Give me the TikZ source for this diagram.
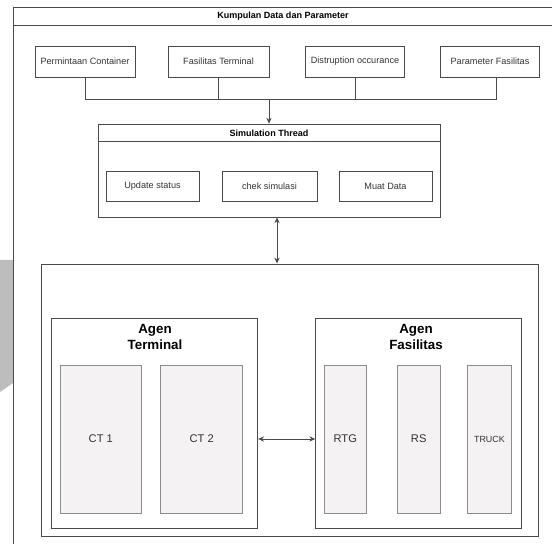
\documentclass[tikz,border=0pt]{standalone}
\usepackage{fontspec}
\setmainfont{Liberation Sans}
\usetikzlibrary{arrows.meta}

\definecolor{boxgray}{HTML}{F4F2F2}
\definecolor{linegray}{HTML}{8C8C8C}
\definecolor{framegray}{HTML}{4A4A4A}
\definecolor{textgray}{HTML}{333333}
\definecolor{markgray}{HTML}{BDBDBD}

\tikzset{
  databox/.style={draw=framegray, line width=0.6pt, inner sep=0pt,
    minimum height=0.93cm, text=textgray, font=\fontsize{7.8}{9}\selectfont},
  simbox/.style={draw=framegray, line width=0.6pt, inner sep=0pt,
    minimum height=0.9cm, text=textgray, font=\fontsize{7.8}{9}\selectfont},
  agentbox/.style={draw=framegray, line width=0.8pt, inner sep=0pt,
    minimum width=6.18cm, minimum height=6.3cm},
  unitbox/.style={draw=linegray, fill=boxgray, line width=0.7pt, inner sep=0pt,
    minimum height=4.44cm, text=textgray, font=\fontsize{9.5}{11}\selectfont},
  agenttitle/.style={align=center, font=\bfseries\fontsize{11.4}{13}\selectfont},
  boldtitle/.style={font=\bfseries\fontsize{7.7}{9}\selectfont},
  link/.style={draw=framegray, line width=0.7pt},
  tip/.style={-{Stealth[length=5pt,width=4.5pt]}},
  tips/.style={{Stealth[length=5pt,width=4.5pt]}-{Stealth[length=5pt,width=4.5pt]}}
}

\begin{document}
\begin{tikzpicture}[x=0.03cm, y=-0.03cm]

\useasboundingbox (0,0) rectangle (552,544);

\fill[markgray] (0,260) -- (13,260) -- (13,383) -- (0,392) -- cycle;

% Kumpulan Data dan Parameter
\draw[framegray, line width=0.6pt] (552,7) -- (13,7) -- (13,544);
\draw[framegray, line width=0.4pt] (13,25) -- (552,25);
\node[boldtitle] (kdp) at (283,16) {Kumpulan Data dan Parameter};

\foreach \x/\w/\n/\t in {85/3.0/pc/Permintaan Container,
                        218.5/3.03/ft/Fasilitas Terminal,
                        355/2.99/do/Distruption occurance,
                        490/2.96/pf/Parameter Fasilitas}{
\node[databox, minimum width=\w cm] (\n) at (\x,61.5) {\t};
}

\coordinate (bus) at (269,99.5);
\draw[link] (pc.south) |- (bus) -| ([xshift=0.18cm]pf.south);
\draw[link] (ft.south) -- (ft.south |- bus);
\draw[link] (do.south) -- (do.south |- bus);

% Simulation Thread
\node[draw=framegray, line width=0.6pt, minimum width=10.26cm, minimum height=2.79cm,
      inner sep=0pt] (sim) at (269,170.5) {};
\draw[framegray, line width=0.6pt] (sim.north west) ++(0,18) coordinate (sh) -- (sh -| sim.east);
\node[boldtitle] (simt) at (269,133) {Simulation Thread};

\node[simbox, minimum width=2.79cm] (us) at (152.5,186) {Update status};
\node[simbox, minimum width=2.85cm] (cs) at (269.5,186) {chek simulasi};
\node[simbox, minimum width=2.79cm] (md) at (385.5,186) {Muat Data};

\draw[link, tip] (bus) -- (bus |- sim.north);

% agen
\node[draw=framegray, line width=0.8pt, minimum width=14.91cm, minimum height=8.16cm,
      inner sep=0pt] (ag) at (290,400) {};
\draw[link, tips] (sim.south -| 277,0) -- (ag.north -| 277,0);

\node[agentbox] (at) at (154.7,423) {};
\node[agentbox] (af) at (418.7,423) {};
\node[agenttitle] (att) at (155,337) {Agen\\Terminal};
\node[agenttitle] (aft) at (416,337) {Agen\\Fasilitas};

\node[unitbox, minimum width=2.44cm] (ct1) at (100.8,439) {CT 1};
\node[unitbox, minimum width=2.47cm] (ct2) at (201.7,439) {CT 2};
\node[unitbox, minimum width=1.27cm] (rtg) at (345.3,439) {RTG};
\node[unitbox, minimum width=1.3cm] (rs) at (418.7,439) {RS};
\node[unitbox, minimum width=1.3cm, font=\fontsize{7.6}{9}\selectfont] (tr) at (489.4,439) {TRUCK};

\draw[link, tips] (at.east |- ct2) -- (af.west |- ct2);

\end{tikzpicture}
\end{document}
